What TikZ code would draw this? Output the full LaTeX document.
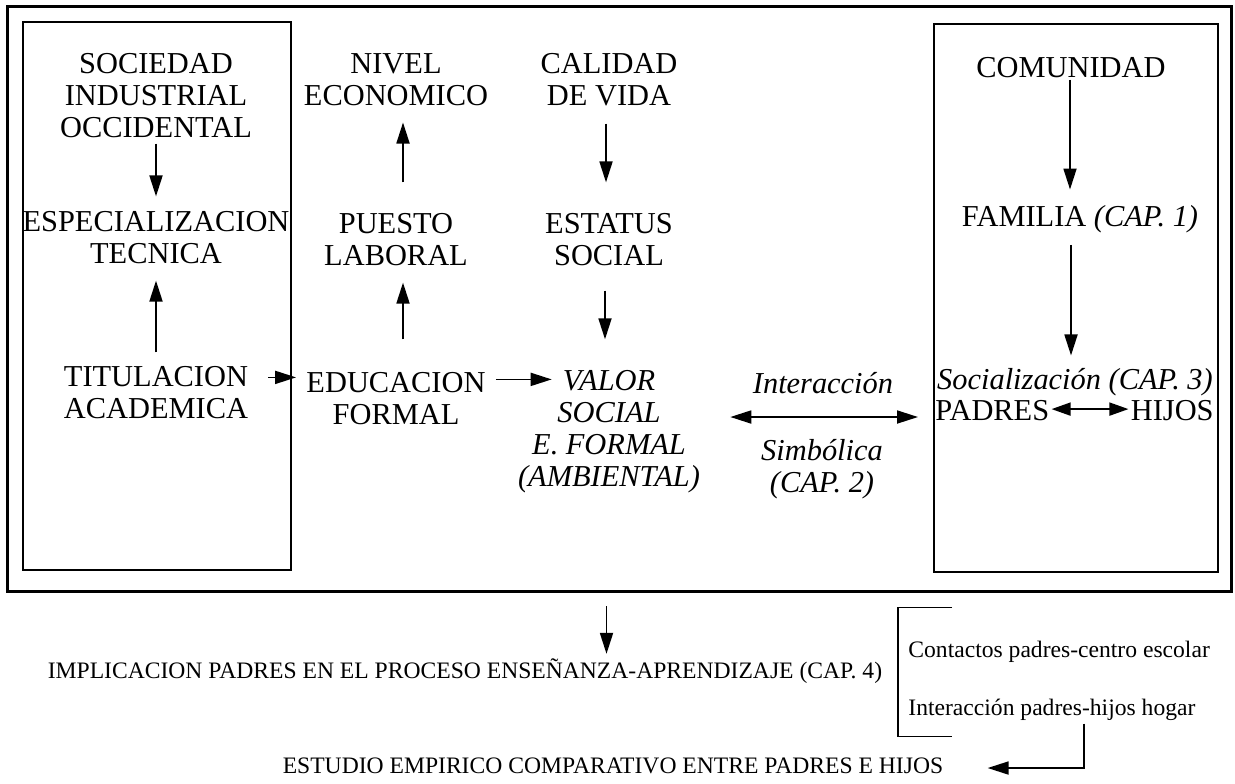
\documentclass[tikz,border=0pt]{standalone}
\usepackage{fontspec}
\setmainfont{Liberation Serif}
\usetikzlibrary{arrows.meta,calc}
\begin{document}
\begin{tikzpicture}[x=0.5pt,y=-0.5pt,
  big/.style={font=\fontsize{15.2}{16}\selectfont, align=center, inner sep=0pt},
  bigi/.style={font=\fontsize{15.2}{16}\selectfont\itshape, align=center, inner sep=0pt},
  small/.style={font=\fontsize{11.8}{14}\selectfont, inner sep=0pt},
  arr/.style={line width=0.9pt, -{Triangle[length=10.5pt,width=6.5pt]}},
  darr/.style={line width=0.9pt, {Triangle[length=10.5pt,width=6.5pt]}-{Triangle[length=10.5pt,width=6.5pt]}},
  sarr/.style={line width=0.9pt, {Triangle[length=9.5pt,width=6.5pt]}-{Triangle[length=9.5pt,width=6.5pt]}},
  outerframe/.style={draw, line width=1.5pt, inner sep=0pt, anchor=north west},
  boxframe/.style={draw, line width=0.8pt, inner sep=0pt, anchor=north west},
  plain/.style={line width=0.8pt}]
\useasboundingbox (0,0) rectangle (1235,783);

% frames
\node[outerframe, minimum width=612pt, minimum height=292.5pt] (outer) at (6,5) {};
\node[boxframe, minimum width=134pt, minimum height=274pt] (lbox) at (22,21) {};
\node[boxframe, minimum width=142pt, minimum height=274pt] (rbox) at (933,23) {};

% column 1
\node[big] (soc) at (156,96) {SOCIEDAD\\INDUSTRIAL\\OCCIDENTAL};
\node[big] (esp) at (156,238) {ESPECIALIZACION\\TECNICA};
\node[big] (tit) at (156,393) {TITULACION\\ACADEMICA};

% column 2
\node[big] (niv) at (396,80) {NIVEL\\ECONOMICO};
\node[big] (pue) at (396,240) {PUESTO\\LABORAL};
\node[big] (edu) at (396,399) {EDUCACION\\FORMAL};

% column 3
\node[big] (cal) at (609,80) {CALIDAD\\DE VIDA};
\node[big] (est) at (609,240) {ESTATUS\\SOCIAL};
\node[bigi] (val) at (609,432) {VALOR\\SOCIAL\\E. FORMAL\\(AMBIENTAL)};

% middle labels
\node[bigi, anchor=base] (inter) at (823,393) {Interacción};
\node[bigi] (simb) at (822,469) {Simbólica\\(CAP. 2)};

% right box
\node[big, anchor=base] (com) at (1071,77) {COMUNIDAD};
\node[big, anchor=base] (fam) at (1080,226) {FAMILIA \textit{(CAP. 1)}};
\node[bigi, anchor=base] (socz) at (1075,389) {Socialización (CAP. 3)};
\node[big, anchor=base west] (pad) at (935,420) {PADRES};
\node[big, anchor=base east] (hij) at (1214,420) {HIJOS};

% bottom
\node[small, anchor=base] (impl) at (465,678) {IMPLICACION PADRES EN EL PROCESO ENSEÑANZA-APRENDIZAJE (CAP. 4)};
\node[small, anchor=base west] (cont) at (908,657) {Contactos padres-centro escolar};
\node[small, anchor=base west] (inth) at (908,715) {Interacción padres-hijos hogar};
\node[small, anchor=base] (estu) at (613,773) {ESTUDIO EMPIRICO COMPARATIVO ENTRE PADRES E HIJOS};

% arrows column 1
\draw[arr] ($(soc.south)+(0,5)$) -- ($(esp.north)+(0,-15)$);
\draw[arr] ($(tit.north)+(0,-14)$) -- ($(esp.south)+(0,16)$);
\draw[arr] ($(tit.north east)+(20,11)$) -- ($(edu.north west)+(-10,5)$);

% arrows column 2
\draw[arr] ($(edu.north)+(7,-33)$) -- ($(pue.south)+(7,16)$);
\draw[arr] ($(pue.north)+(7,-31)$) -- ($(niv.south)+(7,16)$);
\draw[arr] ($(edu.north east)+(10,7)$) -- ($(edu.north east -| val.north west)+(34,7)$);

% arrows column 3
\draw[arr] ($(cal.south)+(-3,17)$) -- ($(est.north)+(-3,-31)$);
\draw[arr] ($(est.south)+(-4,24)$) -- ($(val.north)+(-4,-31)$);

% interaction double arrow
\draw[darr] ($(val.east)+(30,-15)$) -- ($(val.east -| rbox.west)+(-15,-15)$);

% right box arrows
\draw[arr] ($(com.south)+(-1,2)$) -- ($(com.south |- fam.north)+(-1,-15)$);
\draw[arr] ($(fam.south)+(-9,12)$) -- ($(fam.south |- socz.north)+(-9,-12)$);
\draw[sarr] ($(pad.east)+(2,-1)$) -- ($(hij.west)+(-2,-1)$);

% bottom arrows
\draw[arr] ($(outer.south)+(-13,13)$) -- ($(outer.south |- impl.north)+(-13,-4)$);
\coordinate (bt) at ($(cont.west)+(44,-44)$);
\coordinate (bb) at ($(inth.west)+(44,27)$);
\draw[plain] (bt) -- ($(cont.west |- bt)+(-10,0)$) -- ($(cont.west |- bb)+(-10,0)$) -- (bb);
\draw[arr] ($(inth.south west)+(176,3)$) |- ($(estu.base east)+(44,-5)$);
\end{tikzpicture}
\end{document}
